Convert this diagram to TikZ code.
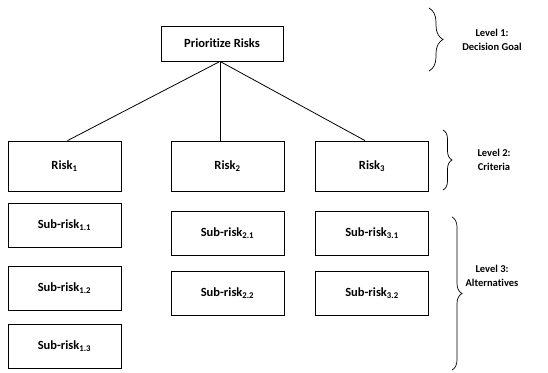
\documentclass[tikz,border=0pt]{standalone}
\usepackage{fontspec}
\setmainfont{Carlito}[Ligatures=NoCommon]
\usetikzlibrary{decorations.pathreplacing}
\tikzset{
  box/.style={draw, line width=0.8pt, minimum width=113pt, inner sep=0pt, font=\fontsize{12.5}{14}\selectfont\bfseries},
  riskbox/.style={box, minimum height=50pt},
  subbox/.style={box, minimum height=44pt},
  conn/.style={line width=0.8pt},
  brc/.style={decorate, line width=0.7pt},
  lvl/.style={align=center, font=\fontsize{10.5}{13.5}\selectfont\bfseries, inner sep=0pt}
}
\begin{document}
\begin{tikzpicture}[x=1pt, y=-1pt]
\useasboundingbox (0,0) rectangle (548,372);
\node[box, minimum width=122pt, minimum height=35pt] (top) at (222,43.5) {Prioritize Risks};
\node[riskbox] (r1) at (64.5,166) {Risk\textsubscript{1}};
\node[riskbox] (r2) at (227.5,166) {Risk\textsubscript{2}};
\node[riskbox] (r3) at (372,166) {Risk\textsubscript{3}};
\node[subbox] (s11) at (64.5,225.5) {Sub-risk\textsubscript{1.1}};
\node[subbox] (s12) at (64.5,288) {Sub-risk\textsubscript{1.2}};
\node[subbox] (s13) at (64.5,346) {Sub-risk\textsubscript{1.3}};
\node[subbox] (s21) at (227.5,233) {Sub-risk\textsubscript{2.1}};
\node[subbox] (s22) at (227.5,293) {Sub-risk\textsubscript{2.2}};
\node[subbox] (s31) at (372,233) {Sub-risk\textsubscript{3.1}};
\node[subbox] (s32) at (372,293) {Sub-risk\textsubscript{3.2}};
\coordinate (apex) at ([xshift=-2pt]top.south);
\draw[conn] (apex) -- ([xshift=3pt]r1.north);
\draw[conn] (apex) -- (apex |- r2.north);
\draw[conn] (apex) -- ([xshift=-7pt]r3.north);
\coordinate (b1a) at (429,8);
\coordinate (b1b) at (429,71);
\coordinate (b2a) at (443,130);
\coordinate (b2b) at (443,190);
\coordinate (b3a) at (452,217);
\coordinate (b3b) at (452,370);
\draw[brc, decoration={brace, amplitude=14pt}] (b1a) -- (b1b);
\draw[brc, decoration={brace, amplitude=9pt}] (b2a) -- (b2b);
\draw[brc, decoration={brace, amplitude=10pt}] (b3a) -- (b3b);
\node[lvl] (l1) at (492,40) {Level 1:\\Decision Goal};
\node[lvl] (l2) at (494,160) {Level 2:\\Criteria};
\node[lvl] (l3) at (492,276) {Level 3:\\Alternatives};
\end{tikzpicture}
\end{document}
